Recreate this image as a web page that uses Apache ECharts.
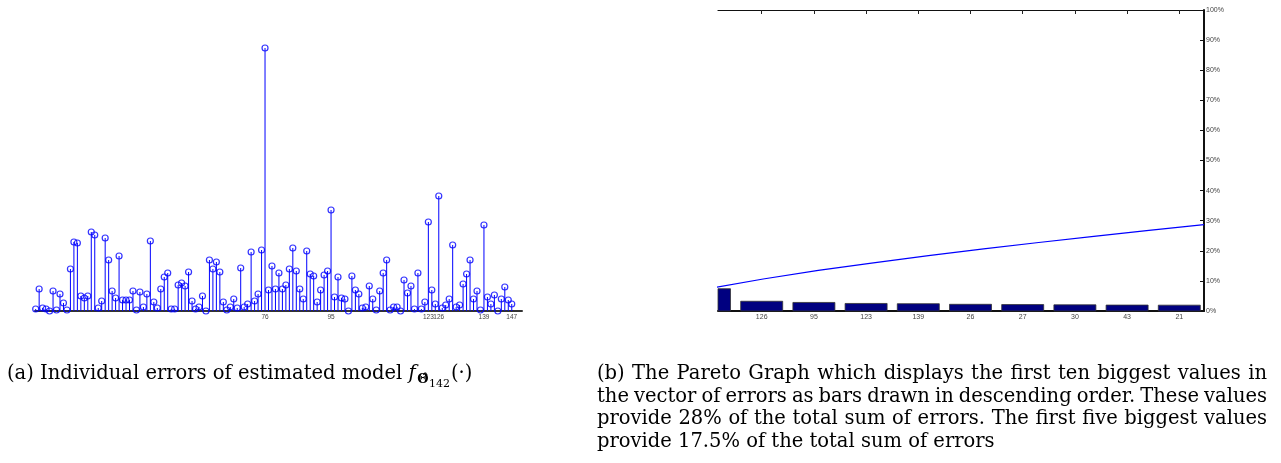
<!DOCTYPE html>
<html>
<head>
<meta charset="utf-8">
<script src="https://cdn.jsdelivr.net/npm/echarts@6/dist/echarts.min.js"></script>
<style>
    html, body { margin: 0; padding: 0; background: #fff; }
    #chart { width: 1281px; height: 463px; }
</style>
</head>
<body>
<div id="chart"></div>
<script>
    // 各样本误差（从图中读出，序号 10 .. 147）
    const firstIndex = 10;
    const errors = [
        2, 22, 3, 2, 0, 20, 1, 17, 8, 1, 42, 69, 68, 15, 13, 15, 79, 76, 3, 10, 73, 51, 20, 13, 55, 11, 11,
        11, 20, 1, 19, 4, 17, 70, 9, 3, 22, 34, 38, 2, 2, 26, 28, 25, 39, 10, 2, 4, 15, 0, 51, 42, 49, 39, 9, 1, 4, 12, 3, 43, 4, 7, 59, 10,
        17, 61, 263, 21, 45, 22, 38, 22, 26, 42, 63, 40, 22, 12, 60, 37, 35, 9, 21, 36, 40, 101, 14, 34, 13, 12, 0, 35, 21, 17, 3, 4, 25, 12, 1, 20, 38,
        51, 1, 4, 4, 0, 31, 18, 25, 2, 38, 2, 9, 89, 21, 7, 115, 3, 6, 12, 66, 4, 6, 27, 37, 51, 12, 20, 1, 86, 14, 7, 16, 0, 12, 24, 11, 7
    ];
    // 左图下方标出的序号
    const markedIndices = [76, 95, 123, 126, 139, 147];
    const paretoCount = 10;

    const captionA = '(a) Individual errors of estimated model ';
    const captionB = [
        '(b) The Pareto Graph which displays the first ten biggest values in',
        'the vector of errors as bars drawn in descending order. These values',
        'provide 28% of the total sum of errors. The first five biggest values',
        'provide 17.5% of the total sum of errors'
    ];

    // 帕累托数据：前十个最大值 + 累计百分比
    const points = errors.map((v, i) => [firstIndex + i, v]);
    const total = errors.reduce((s, v) => s + v, 0);
    const biggest = points.slice().sort((a, b) => b[1] - a[1]).slice(0, paretoCount);
    const paretoLabels = biggest.map(p => String(p[0]));
    const barData = biggest.map((p, k) => [k + 1, p[1] / total * 100]);
    let run = 0;
    const cumData = biggest.map((p, k) => {
        run += p[1];
        return [k + 1, run / total * 100];
    });
    const barTicks = paretoLabels.map((s, k) => k + 1).slice(1);

    // 标题文字
    const serif = '"DejaVu Serif", serif';
    const ctx = document.createElement('canvas').getContext('2d');
    function textWidth(s, size, style, weight) {
        ctx.font = (style || 'normal') + ' ' + (weight || 'normal') + ' ' + size + 'px ' + serif;
        return ctx.measureText(s).width;
    }
    function textEl(s, x, y, size, style, weight) {
        return {
            type: 'text',
            x: x,
            y: y,
            silent: true,
            style: {
                text: s,
                fontSize: size,
                fontFamily: serif,
                fontStyle: style || 'normal',
                fontWeight: weight || 'normal',
                fill: '#000',
                verticalAlign: 'middle'
            }
        };
    }

    const fs = 19.5;
    const capY = 374;
    const graphics = [];
    let xa = 7;
    graphics.push(textEl(captionA, xa, capY, fs));
    xa += textWidth(captionA, fs);
    graphics.push(textEl('f', xa, capY, fs, 'italic'));
    xa += textWidth('f', fs, 'italic') + 1.5;
    graphics.push(textEl('\u0398\u0302', xa, capY + 6, 13, 'normal', 'bold'));
    xa += textWidth('\u0398', 13, 'normal', 'bold') + 0.5;
    graphics.push(textEl('142', xa, capY + 10, 11));
    xa += textWidth('142', 11) + 1;
    graphics.push(textEl('(\u00b7)', xa, capY, fs));

    const bLeft = 597, bRight = 1267;
    captionB.forEach(function(line, n) {
        const y = capY + n * 22.7;
        if (n === captionB.length - 1) {
            graphics.push(textEl(line, bLeft, y, fs));
            return;
        }
        const words = line.split(' ');
        const widths = words.map(w => textWidth(w, fs));
        const gap = (bRight - bLeft - widths.reduce((s, w) => s + w, 0)) / (words.length - 1);
        let x = bLeft;
        words.forEach(function(w, i) {
            graphics.push(textEl(w, x, y, fs));
            x += widths[i] + gap;
        });
    });

    const sans = '"Liberation Sans", Arial, sans-serif';
    const chart = echarts.init(document.getElementById('chart'));

    chart.setOption({
        animation: false,
        backgroundColor: '#fff',
        grid: [{
            left: 35,
            top: 10,
            width: 487,
            height: 301,
            outerBoundsMode: 'none'
        }, {
            left: 718,
            top: 10,
            width: 486,
            height: 301,
            outerBoundsMode: 'none'
        }],
        xAxis: [{
            gridIndex: 0,
            type: 'value',
            min: 9.806,
            max: 149.95,
            axisLine: { lineStyle: { color: '#333', width: 2 } },
            axisTick: { show: false },
            splitLine: { show: false },
            axisLabel: {
                customValues: markedIndices,
                hideOverlap: false,
                fontSize: 6.5,
                fontFamily: sans,
                color: '#444',
                margin: 3
            }
        }, {
            gridIndex: 1,
            type: 'value',
            position: 'bottom',
            min: 1.163,
            max: 10.473,
            axisLine: { lineStyle: { color: '#111', width: 2 } },
            axisTick: { show: false },
            splitLine: { show: false },
            axisLabel: {
                customValues: barTicks,
                formatter: v => paretoLabels[Math.round(v) - 1],
                fontSize: 7,
                fontFamily: sans,
                color: '#444',
                margin: 3
            }
        }, {
            gridIndex: 1,
            type: 'value',
            position: 'top',
            min: 1.163,
            max: 10.473,
            axisLine: { lineStyle: { color: '#111', width: 1.2 } },
            axisTick: {
                show: true,
                inside: true,
                length: 4,
                customValues: barTicks,
                lineStyle: { color: '#222', width: 1 }
            },
            axisLabel: { show: false },
            splitLine: { show: false }
        }, {
            gridIndex: 1,
            type: 'value',
            min: 1.18,
            max: 10,
            show: false
        }],
        yAxis: [{
            gridIndex: 0,
            type: 'value',
            min: 0,
            max: 301,
            show: false
        }, {
            gridIndex: 1,
            type: 'value',
            position: 'right',
            min: 0,
            max: 100,
            interval: 10,
            axisLine: { show: true, lineStyle: { color: '#111', width: 2 } },
            axisTick: { show: true, inside: true, length: 4, lineStyle: { color: '#111', width: 1 } },
            splitLine: { show: false },
            axisLabel: {
                formatter: '{value}%',
                fontSize: 7,
                fontFamily: sans,
                color: '#444',
                margin: 2
            }
        }],
        series: [{
            // 茎
            type: 'bar',
            xAxisIndex: 0,
            yAxisIndex: 0,
            barWidth: 1,
            silent: true,
            itemStyle: { color: '#0000ff' },
            data: points
        }, {
            type: 'scatter',
            xAxisIndex: 0,
            yAxisIndex: 0,
            symbol: 'circle',
            symbolSize: 6,
            silent: true,
            itemStyle: { color: 'rgba(0,0,0,0)', borderColor: '#0000ff', borderWidth: 1.2 },
            data: points
        }, {
            // 帕累托条形（第一根被左边界截断）
            type: 'custom',
            xAxisIndex: 1,
            yAxisIndex: 1,
            silent: true,
            renderItem: function(params, api) {
                const base = api.coord([api.value(0), 0]);
                const tip = api.coord([api.value(0), api.value(1)]);
                const w = 42;
                const rect = echarts.graphic.clipRectByRect({
                    x: base[0] - w / 2,
                    y: tip[1],
                    width: w,
                    height: base[1] - tip[1]
                }, params.coordSys);
                return rect && {
                    type: 'rect',
                    shape: rect,
                    style: { fill: '#000080', stroke: '#333', lineWidth: 0.8 }
                };
            },
            data: barData
        }, {
            // 累计曲线
            type: 'line',
            xAxisIndex: 3,
            yAxisIndex: 1,
            showSymbol: false,
            clip: true,
            silent: true,
            lineStyle: { color: '#0000ff', width: 1.2 },
            data: cumData
        }],
        graphic: graphics
    });
</script>
</body>
</html>
